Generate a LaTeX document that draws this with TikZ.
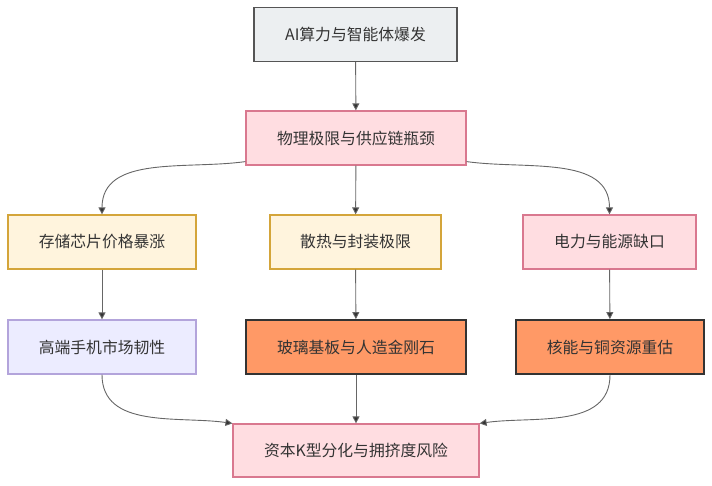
\documentclass[tikz,border=0pt]{standalone}
\usepackage{fontspec}
\usepackage{xcolor}
\usepackage{tikz}
\usetikzlibrary{arrows.meta}
\newfontfamily\cjk{Noto Sans CJK SC}

\definecolor{grayfill}{HTML}{ECEFF1}
\definecolor{grayline}{HTML}{555555}
\definecolor{pinkfill}{HTML}{FFDDE1}
\definecolor{pinkline}{HTML}{D9788F}
\definecolor{yellowfill}{HTML}{FFF4DD}
\definecolor{yellowline}{HTML}{D4A53A}
\definecolor{lilacfill}{HTML}{ECECFF}
\definecolor{lilacline}{HTML}{B3A4DB}
\definecolor{orangefill}{HTML}{FF9966}
\definecolor{darkline}{HTML}{333333}
\definecolor{edgeline}{HTML}{666666}

\begin{document}
\begin{tikzpicture}[x=1pt, y=1pt,
    box/.style={rectangle, draw, line width=1.2pt, minimum height=54pt, align=center,
        font=\cjk\fontsize{15.8}{18}\selectfont, text=darkline},
    source/.style={box, fill=grayfill, draw=grayline},
    hot/.style={box, fill=pinkfill, draw=pinkline},
    strain/.style={box, fill=yellowfill, draw=yellowline},
    steady/.style={box, fill=lilacfill, draw=lilacline},
    key/.style={box, fill=orangefill, draw=darkline, line width=1.8pt},
    link/.style={draw=edgeline, line width=0.9pt, -{Triangle[length=7pt,width=7pt,fill=darkline]}}]

    \useasboundingbox (0,0) rectangle (712,-486);

    \node[source, minimum width=203pt] (boom) at (355.5,-34.5) {AI算力与智能体爆发};
    \node[hot, minimum width=220pt] (limits) at (356,-138) {物理极限与供应链瓶颈};

    \node[strain, minimum width=188pt] (memory) at (102,-242) {存储芯片价格暴涨};
    \node[strain, minimum width=171pt] (cooling) at (355.5,-242) {散热与封装极限};
    \node[hot, minimum width=173pt] (power) at (609.5,-242) {电力与能源缺口};

    \node[steady, minimum width=188pt] (phones) at (102,-347) {高端手机市场韧性};
    \node[key, minimum width=220pt] (glass) at (356,-347) {玻璃基板与人造金刚石};
    \node[key, minimum width=188pt] (nuclear) at (610,-347) {核能与铜资源重估};

    \node[hot, minimum width=246pt, minimum height=53pt] (capital) at (356,-450.5) {资本K型分化与拥挤度风险};

    \draw[link] (boom) -- (limits);
    \draw[link] ([yshift=4pt]limits.south west) to[out=188, in=90] (memory.north);
    \draw[link] (limits) -- (cooling);
    \draw[link] ([yshift=4pt]limits.south east) to[out=-8, in=90] (power.north);

    \draw[link] (memory) -- (phones);
    \draw[link] (cooling) -- (glass);
    \draw[link] (power) -- (nuclear);

    \draw[link] (phones.south) to[out=-90, in=172] (capital.north west);
    \draw[link] (glass) -- (capital);
    \draw[link] (nuclear.south) to[out=-90, in=8] (capital.north east);

\end{tikzpicture}
\end{document}
